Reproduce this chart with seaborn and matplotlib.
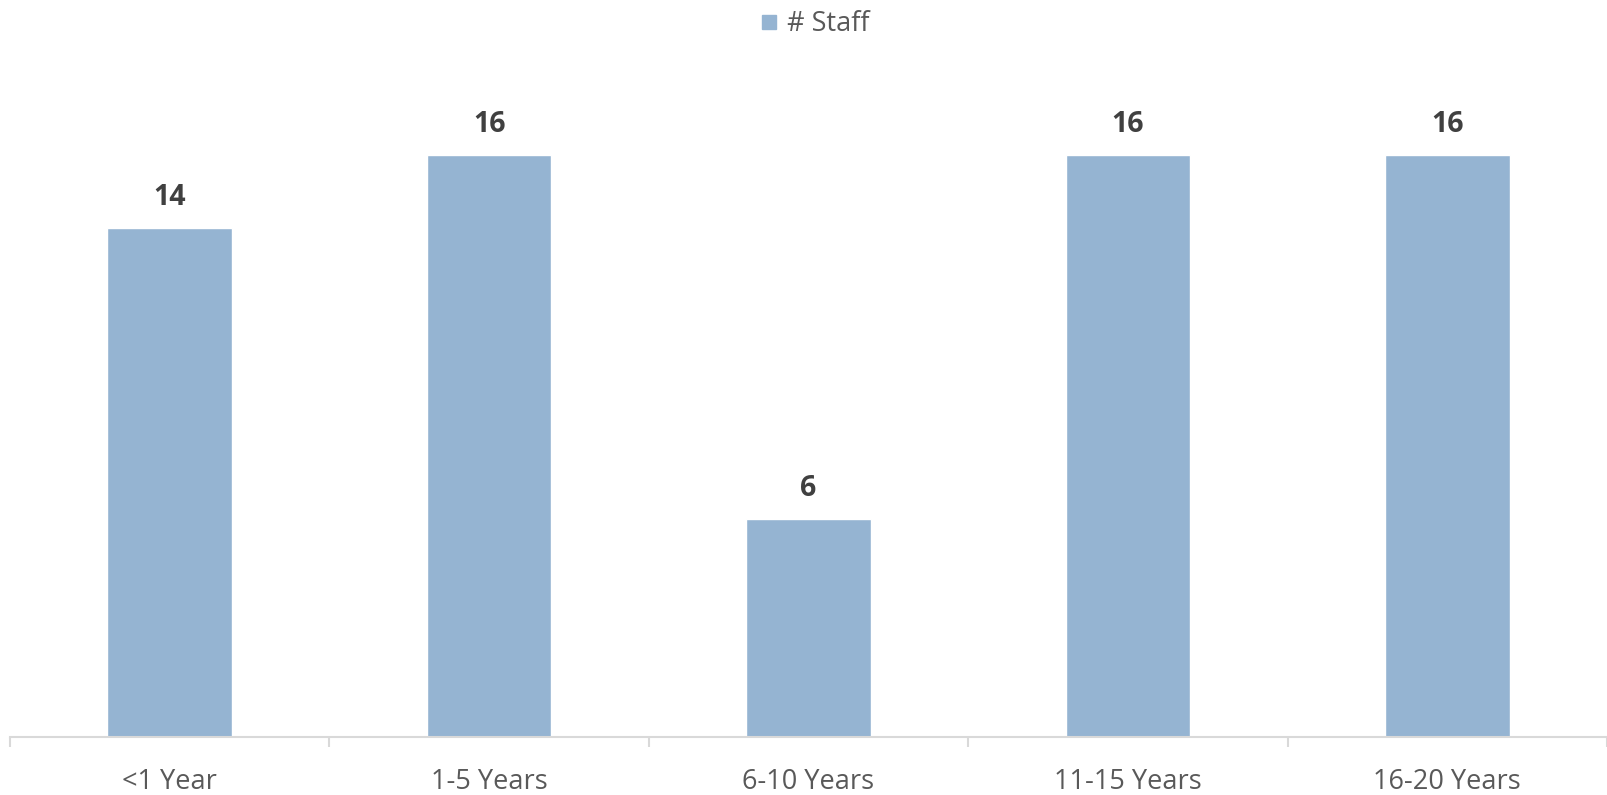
import matplotlib
matplotlib.use("Agg")
import matplotlib.pyplot as plt
import seaborn as sns
import pandas as pd
import numpy as np
from matplotlib.lines import Line2D

categories = ["<1 Year", "1-5 Years", "6-10 Years", "11-15 Years", "16-20 Years"]
staff = [14, 16, 6, 16, 16]
series_name = "# Staff"

sns.set_theme(style="white")
plt.rcParams['font.family'] = ['Open Sans', 'DejaVu Sans']

df = pd.DataFrame({"cat": categories, "val": staff})

fig = plt.figure(figsize=(16.08, 7.95), dpi=100)
ax = fig.add_axes([10/1608, 1 - 737/795, 1597/1608, (737 - 82)/795])

bar_color = "#95B4D2"
sns.barplot(data=df, x="cat", y="val", color=bar_color, width=0.39,
            saturation=1, ax=ax, order=categories)

ax.set_xlim(-0.5, len(categories) - 0.5)
ax.set_ylim(0, 18)
ax.set_xlabel("")
ax.set_ylabel("")
ax.set_yticks([])

for s in ["top", "right", "left"]:
    ax.spines[s].set_visible(False)
ax.spines["bottom"].set_color("#D9D9D9")
ax.spines["bottom"].set_linewidth(1.5)

ax.tick_params(axis="x", which="major", length=0, pad=22, labelsize=19.5,
               labelcolor="#595959")
ax.set_xticks(np.arange(-0.5, len(categories), 1.0), minor=True)
ax.tick_params(axis="x", which="minor", bottom=True, length=7, width=1.5,
               color="#D9D9D9", direction="out")

for i, v in enumerate(staff):
    ax.annotate(str(v), xy=(i, v), xytext=(0, 11), textcoords="offset points",
                ha="center", va="bottom", fontsize=20.5, fontweight="bold",
                color="#404040")

handle = Line2D([], [], marker="s", linestyle="none", markersize=9.5,
                markerfacecolor=bar_color, markeredgecolor=bar_color)
fig.legend([handle], [series_name], loc="center", bbox_to_anchor=(0.5045, 1 - 24/795),
           frameon=False, fontsize=19.5, labelcolor="#595959",
           handletextpad=0.05, handlelength=1.2, borderaxespad=0)

fig.savefig("out.png", dpi=100)
